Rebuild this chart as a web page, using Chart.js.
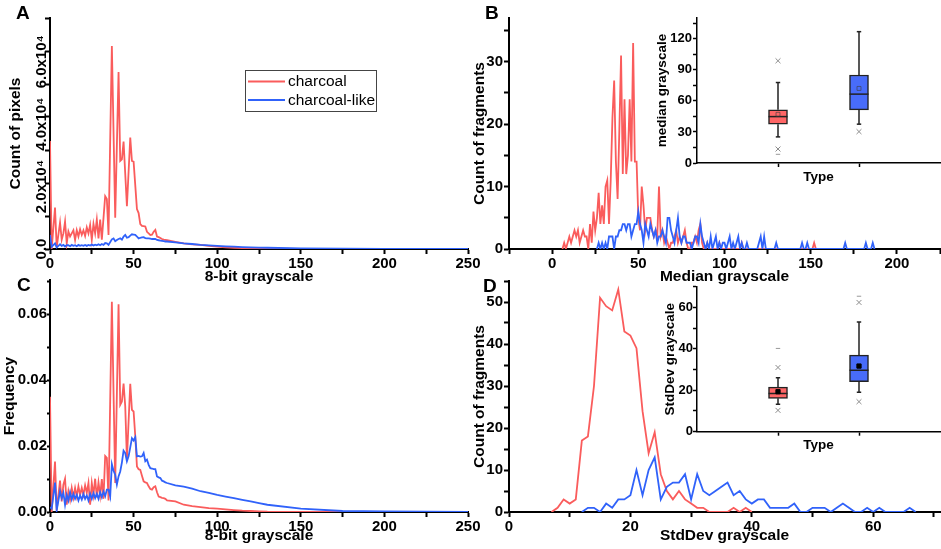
<!DOCTYPE html>
<html>
<head>
<meta charset="utf-8">
<script src="https://cdn.jsdelivr.net/npm/chart.js@4.4.1/dist/chart.umd.min.js"></script>
<style>
  html, body { margin: 0; padding: 0; background: #fff; }
  #fig { position: relative; width: 941px; height: 549px; overflow: hidden; background: #fff; }
  #fig canvas { position: absolute; }
  .tag { position: absolute; font: bold 19px "Liberation Sans", Arial, sans-serif; line-height: 19px; color: #000; }
</style>
</head>
<body>
<div id="fig">
  <canvas id="histA" width="490" height="290" style="left:0px;top:0px"></canvas>
  <canvas id="histC" width="490" height="274" style="left:0px;top:275px"></canvas>
  <canvas id="histB" width="471" height="290" style="left:470px;top:0px"></canvas>
  <canvas id="histD" width="471" height="274" style="left:470px;top:275px"></canvas>
  <canvas id="boxB" width="301" height="190" style="left:640px;top:0px"></canvas>
  <canvas id="boxD" width="301" height="180" style="left:640px;top:275px"></canvas>
  <div class="tag" style="left:16px;top:3px">A</div>
  <div class="tag" style="left:485px;top:3px">B</div>
  <div class="tag" style="left:17px;top:275px">C</div>
  <div class="tag" style="left:483px;top:276px">D</div>
</div>
<script>
// grey levels sampled for panels A and C (dense where the curves are noisy)
const grayLevels = [0,1,2,3,4,5,6,7,8,9,10,11,12,13,14,15,16,17,18,19,20,21,22,23,24,25,26,27,28,29,
  30,31,32,33,34,35,36,37,38,39,40,41,42,43,44,45,46,47,48,49,50,51,52,53,54,55,56,57,58,59,
  60,61,62,63,64,65,66,67,68,69,70,75,80,85,90,95,100,105,110,115,120,125,130,150,175,200,225,250];

// A: count of pixels
const pixelsCharcoal = [34600,0,null,13300,500,null,8500,3000,5000,8800,
  1800,5600,4000,5000,6000,2900,6000,4000,6300,4500,
  6000,4200,6900,5000,7700,2900,8000,5000,9400,3400,
  9400,3000,null,16900,16000,4500,null,65000,null,10000,
  null,56700,28200,28700,34400,null,13700,null,35700,28200,
  28000,null,12800,11500,8000,7400,7300,7200,5500,5000,
  4500,4600,5500,6100,4000,3800,3500,3200,3000,2900,
  2800,2300,1800,1500,1300,1000,750,550,400,300,250,200,150,50,20,10,0,0];
const pixelsCharcoalLike = [4500,700,null,1800,500,1000,1500,1000,1300,800,
  1200,1200,900,1300,1000,1200,900,1300,1000,1200,
  1000,1300,1000,1300,1100,1400,1100,1400,1200,1500,
  1200,1600,1300,1900,1800,1300,null,3100,3400,2500,
  2900,3200,3400,3000,4000,4500,3600,3800,4300,4700,
  4600,4500,4000,3400,3600,3700,3800,3500,3400,3400,
  3300,3200,3200,3200,2900,2800,2700,2600,2500,2400,
  2400,2100,1800,1600,1300,1150,1000,850,750,600,500,450,400,200,100,50,30,20];
const pixelTickValues = [0, 20000, 40000, 60000];
const pixelTickLabels = ['0.0', '2.0x10\u2074', '4.0x10\u2074', '6.0x10\u2074'];

// C: frequency
const freqCharcoal = [0.035,0,null,0.0153,0.0005,null,0.0095,0.0032,0.0083,0.0101,
  0.0022,0.0063,0.0037,0.0073,0.0044,0.0073,0.0047,0.0078,0.0052,0.0073,
  0.0052,0.0081,0.0058,0.0088,0.0022,0.0088,0.0052,0.0101,0.0044,0.009,
  0.005,0.01,0.004,0.017,0.0164,0.0035,null,0.0638,null,0.0088,
  null,0.063,0.0325,0.0335,0.039,0.032,0.0159,null,0.0389,0.031,
  0.0305,0.023,0.0138,0.013,0.0128,0.011,0.0093,0.009,0.0088,0.0078,
  0.007,0.0068,0.0075,0.0078,0.006,0.0047,0.0045,0.0043,0.0042,0.004,
  0.0035,0.0032,0.0022,0.0018,0.0015,0.0012,0.001,0.0008,0.0006,0.0004,0.0003,0.0002,0.0001,
  0.00003,0,0,0,0];
const freqCharcoalLike = [0.0015,0.001,null,0.0089,0.0005,null,0.0063,0.0042,0.0058,0.0022,
  0.0052,0.0035,0.006,0.0038,0.0055,0.004,0.0052,0.0035,0.005,0.0038,
  0.0055,0.004,0.005,0.0035,0.0055,0.004,0.0057,0.0042,0.0055,0.004,
  0.006,0.0045,0.0062,0.0048,0.0068,0.0068,0.0047,0.0145,0.0125,0.0113,
  0.0083,0.0108,0.0123,0.015,0.0186,0.0179,0.0154,0.0169,0.0196,0.0224,
  0.0217,0.0227,0.0169,0.017,0.0168,0.0169,0.0179,0.0154,0.0159,0.0143,
  0.0133,0.0132,0.013,0.013,0.0108,0.0105,0.0103,0.0095,0.0093,0.009,
  0.0088,0.0081,0.0077,0.0071,0.0063,0.0058,0.0052,0.0047,0.0042,0.0037,0.0032,0.0027,0.0022,
  0.001,0.0003,0.0002,0.0001,0.00005];

// B: fragments per median grey level (one bin per level, starting at *Start)
const medianCharcoalStart = 6;
const medianCharcoal = [0,1,0,1,2,1,2,3,2,3, 1,2,3,2,2,0,4,1,6,3, 5,9,4,7,4,10,11,4,11,21,
  27,14,8,19,31,12,24,12,15,24, 14,33,14,14,5,3,10,7,3,5, 5,5,3,2,3,2,10,2,3,1,
  2,1,0,1,1,2,3,1,2,1, 2,3,1,0,0,1,1,2,1,3, 4,1,0,0,1,0,0,0,0,0, 0,1,0,0,0,0,0,0,0,0,
  0,0,0,0,1,0,0,0,0,0, 0,0,0,0,0,0,0,0,0,0, 0,0,0,0,0,0,0,0,0,0, 0,0,0,0,0,0,0,0,0,0,
  0,0,0,0,0,0,1,0];
const medianCharcoalLikeStart = 26;
const medianCharcoalLike = [0,1,0,1,0,1,0,2,2,2, 0,2,2,3,3,4,4,3,4,4, 2,3,4,4,6,4,3,1,4,3,
  2,4,3,2,3,1,2,2,3,2, 1,5,5,3,2,1,3,5,2,1, 2,2,1,1,1,0,1,2,2,1, 4,2,1,0,1,0,2,0,1,2,
  0,1,0,1,1,0,1,2,0,1, 0,1,2,0,1,0,0,1,0,0, 0,0,0,0,1,2,0,2,0,0, 0,0,0,0,1,0,0,0,0,0,
  0,0,0,0,0,0,0,0,0,1, 0,0,1,0,0,0,0,0,0,0, 0,0,0,0,0,0,0,0,0,0, 0,0,0,0,1,0,0,0,0,0,
  0,0,0,0,0,0,1,0,0,0, 1,0];

// D: fragments per StdDev grey level
const stdCharcoalStart = 7;
const stdCharcoal = [0,1,3,2,3,17,18,30,51,49,48,53,43,42,39,24,14,19,9,5,3,5,3,2,1,1,0,0,0,0,1,0,1,0];
const stdCharcoalLikeStart = 12;
const stdCharcoalLike = [0,1,1,0,2,1,3,3,4,10, 4,10,13,3,6,7,7,9,3,9, 5,4,5,6,7,4,5,3,2,3,
  3,1,1,1,1,2,0,0,1,1, 1,0,1,2,1,0,0,1,0,1, 0,0,0,0,1,0];

// inset box plots: index 0 = charcoal, 1 = charcoal-like
const boxTypes = [1, 2];
const medQ1 = [37.5, 51.3];
const medQ3 = [51.3, 85.0];
const medMedian = [44.8, 66.5];
const medMean = [47.0, 72.0];
const medWhiskerLow = [25.2, 37.5];
const medWhiskerHigh = [77.7, 126.8];
const medOutliers = [[98.7, 13.5], [30.3]];
const medExtremes = [[8.4], []];

const sdQ1 = [16.1, 24.1];
const sdQ3 = [21.5, 37.0];
const sdMedian = [18.5, 29.7];
const sdMean = [19.3, 31.7];
const sdWhiskerLow = [13.2, 19.0];
const sdWhiskerHigh = [26.0, 52.9];
const sdOutliers = [[31.0, 10.3], [62.4, 14.5]];
const sdExtremes = [[40.2], [65.4]];

const FONT = '"Liberation Sans", Arial, Helvetica, sans-serif';
const RED = 'rgb(250, 92, 92)';
const BLUE = 'rgb(48, 98, 250)';
const RED_FILL = 'rgb(255, 102, 102)';
const BLUE_FILL = 'rgb(72, 108, 250)';

Chart.defaults.font.family = FONT;
Chart.defaults.color = '#000';
Chart.defaults.animation = false;
Chart.defaults.events = [];
Chart.defaults.plugins.legend.display = false;
Chart.defaults.plugins.tooltip.enabled = false;

function pairs(xs, ys) {
  return xs.map((x, i) => ({ x: x, y: ys[i] }));
}

function binned(start, counts) {
  return counts.map((c, i) => ({ x: start + i, y: c }));
}

function every(n, digits) {
  return v => (Math.abs(v / n - Math.round(v / n)) < 1e-6 && v >= 0
    ? (digits ? v.toFixed(digits) : String(v)) : '');
}

// linear axis with fixed room so the plot areas land where the figure has them
function axis(o) {
  const vertical = o.position === 'left';
  const cfg = {
    type: 'linear',
    position: o.position,
    min: o.min,
    max: o.max,
    offset: false,
    border: { color: '#000', width: o.line },
    grid: { offset: false, drawOnChartArea: false, tickLength: o.tick, tickWidth: o.line, tickColor: '#000' },
    ticks: {
      stepSize: o.step, includeBounds: false, autoSkip: false, maxRotation: 0,
      padding: o.pad, color: '#000',
      font: { size: o.size, weight: 'bold' },
      callback: o.label
    },
    title: {
      display: true, text: o.title, color: '#000',
      font: { size: o.titleSize || o.size, weight: 'bold' },
      padding: vertical ? { top: o.titlePad, bottom: 0 } : { top: 0, bottom: o.titlePad }
    },
    afterFit: s => {
      if (vertical) { s.width = o.room; s.paddingTop = 0; s.paddingBottom = 0; }
      else { s.height = o.room; s.paddingLeft = 0; s.paddingRight = 0; }
    }
  };
  if (o.fixedTicks) {
    cfg.afterBuildTicks = s => { s.ticks = o.fixedTicks.map(v => ({ value: v })); };
  }
  return cfg;
}

function lineSeries(label, data, color, order) {
  return { label: label, data: data, borderColor: color, backgroundColor: color, order: order,
    borderWidth: 1.8, pointRadius: 0, tension: 0, spanGaps: true };
}

const rotatedPixelTicks = {
  id: 'rotatedPixelTicks',
  afterDraw(chart) {
    const ctx = chart.ctx;
    const y = chart.scales.y;
    ctx.save();
    ctx.font = 'bold 15px ' + FONT;
    ctx.fillStyle = '#000';
    ctx.textAlign = 'center';
    ctx.textBaseline = 'middle';
    pixelTickValues.forEach((v, i) => {
      ctx.save();
      ctx.translate(y.left + 42, y.getPixelForValue(v));
      ctx.rotate(-Math.PI / 2);
      ctx.fillText(pixelTickLabels[i], 0, 0);
      ctx.restore();
    });
    ctx.restore();
  }
};

const seriesLegend = {
  id: 'seriesLegend',
  afterDraw(chart) {
    const ctx = chart.ctx;
    ctx.save();
    ctx.strokeStyle = '#444';
    ctx.lineWidth = 1;
    ctx.strokeRect(245.5, 70.5, 131, 41);
    chart.data.datasets.forEach((ds, i) => {
      const yy = 81.5 + i * 18.5;
      ctx.strokeStyle = ds.borderColor;
      ctx.lineWidth = 2;
      ctx.beginPath();
      ctx.moveTo(248, yy);
      ctx.lineTo(285, yy);
      ctx.stroke();
      ctx.fillStyle = '#000';
      ctx.font = '15.5px ' + FONT;
      ctx.textBaseline = 'middle';
      ctx.fillText(ds.label, 288, yy + 0.5);
    });
    ctx.restore();
  }
};

function layoutPad(top, right) {
  return { autoPadding: false, padding: { top: top, right: right, bottom: 0, left: 0 } };
}

// panel A
new Chart(document.getElementById('histA'), {
  type: 'line',
  data: { datasets: [
    lineSeries('charcoal', pairs(grayLevels, pixelsCharcoal), RED, 1),
    lineSeries('charcoal-like', pairs(grayLevels, pixelsCharcoalLike), BLUE, 0)
  ] },
  options: {
    responsive: false,
    layout: layoutPad(18, 22),
    scales: {
      x: axis({ position: 'bottom', min: 0, max: 250, step: 25, label: every(50), line: 2, tick: 5, pad: 1,
        size: 15, titleSize: 15.5, title: '8-bit grayscale', titlePad: 4, room: 41 }),
      y: axis({ position: 'left', min: 0, max: 74000, step: 10000, label: () => '', line: 2, tick: 5, pad: 1,
        size: 15, titleSize: 15.5, title: 'Count of pixels', titlePad: 6, room: 50 })
    }
  },
  plugins: [rotatedPixelTicks, seriesLegend]
});

// panel C
new Chart(document.getElementById('histC'), {
  type: 'line',
  data: { datasets: [
    lineSeries('charcoal', pairs(grayLevels, freqCharcoal), RED, 1),
    lineSeries('charcoal-like', pairs(grayLevels, freqCharcoalLike), BLUE, 0)
  ] },
  options: {
    responsive: false,
    layout: layoutPad(5, 22),
    scales: {
      x: axis({ position: 'bottom', min: 0, max: 250, step: 25, label: every(50), line: 2, tick: 5, pad: 1,
        size: 15, titleSize: 15.5, title: '8-bit grayscale', titlePad: 4, room: 37 }),
      y: axis({ position: 'left', min: 0, max: 0.0704, step: 0.01, label: every(0.02, 2), line: 2, tick: 3, pad: 0,
        size: 15, titleSize: 15.5, title: 'Frequency', titlePad: 0, room: 50 })
    }
  }
});

// panel B
new Chart(document.getElementById('histB'), {
  type: 'line',
  data: { datasets: [
    lineSeries('charcoal', binned(medianCharcoalStart, medianCharcoal), RED, 1),
    lineSeries('charcoal-like', binned(medianCharcoalLikeStart, medianCharcoalLike), BLUE, 0)
  ] },
  options: {
    responsive: false,
    layout: layoutPad(18, 1),
    scales: {
      x: axis({ position: 'bottom', min: -25, max: 225, step: 25, label: every(50), line: 2, tick: 5, pad: 1,
        size: 15, titleSize: 15.5, title: 'Median grayscale', titlePad: 4, room: 41 }),
      y: axis({ position: 'left', min: 0, max: 37, step: 5, label: every(10), line: 2, tick: 5, pad: 1,
        size: 15, titleSize: 15.5, title: 'Count of fragments', titlePad: 0, room: 39 })
    }
  }
});

// panel D
new Chart(document.getElementById('histD'), {
  type: 'line',
  data: { datasets: [
    lineSeries('charcoal', binned(stdCharcoalStart, stdCharcoal), RED, 1),
    lineSeries('charcoal-like', binned(stdCharcoalLikeStart, stdCharcoalLike), BLUE, 0)
  ] },
  options: {
    responsive: false,
    layout: layoutPad(6, 1),
    scales: {
      x: axis({ position: 'bottom', min: 0, max: 71, step: 10, label: every(20), line: 2, tick: 5, pad: 1,
        size: 15, titleSize: 15.5, title: 'StdDev grayscale', titlePad: 4, room: 37 }),
      y: axis({ position: 'left', min: 0, max: 55, step: 5, label: every(10), line: 2, tick: 5, pad: 1,
        size: 15, titleSize: 15.5, title: 'Count of fragments', titlePad: 0, room: 39 })
    }
  }
});

// box plot built from floating bars plus scatter markers
function boxDatasets(b) {
  const whiskers = [];
  const caps = [];
  const outliers = [];
  const extremes = [];
  boxTypes.forEach((x, i) => {
    whiskers.push({ x: x, y: b.low[i] }, { x: x, y: b.q1[i] }, { x: x, y: null },
      { x: x, y: b.q3[i] }, { x: x, y: b.high[i] }, { x: x, y: null });
    caps.push({ x: x, y: b.low[i] }, { x: x, y: b.high[i] });
    b.outliers[i].forEach(v => outliers.push({ x: x, y: v }));
    b.extremes[i].forEach(v => extremes.push({ x: x, y: v }));
  });
  return [
    { type: 'scatter', data: pairs(boxTypes, b.mean), pointStyle: 'rect', pointRadius: b.meanRadius,
      pointBackgroundColor: b.meanFill, pointBorderColor: b.meanBorder, pointBorderWidth: 1 },
    { type: 'scatter', data: pairs(boxTypes, b.median), pointStyle: 'line', pointRadius: 9.5,
      pointBorderColor: '#222', pointBorderWidth: 1.5 },
    { type: 'scatter', data: caps, pointStyle: 'line', pointRadius: 2.2,
      pointBorderColor: '#222', pointBorderWidth: 1.5 },
    { type: 'scatter', data: outliers, pointStyle: 'crossRot', pointRadius: 3.5,
      pointBorderColor: '#8c8c8c', pointBorderWidth: 1 },
    { type: 'scatter', data: extremes, pointStyle: 'line', pointRadius: 2.2,
      pointBorderColor: '#999', pointBorderWidth: 1 },
    { type: 'scatter', data: whiskers, showLine: true, spanGaps: false, pointRadius: 0,
      borderColor: '#222', borderWidth: 1.5 },
    { type: 'bar', data: boxTypes.map((x, i) => ({ x: x, y: [b.q1[i], b.q3[i]] })),
      backgroundColor: [RED_FILL, BLUE_FILL], borderColor: '#222', borderWidth: 1.5,
      borderSkipped: false, barThickness: 19 }
  ];
}

function boxOptions(o) {
  return {
    responsive: false,
    layout: layoutPad(o.top, 1),
    scales: {
      x: axis({ position: 'bottom', min: 0, max: 3, step: 1, label: () => '', fixedTicks: boxTypes,
        line: 1.5, tick: 4, pad: 0, size: 13, titleSize: 13.5, title: 'Type', titlePad: o.typePad, room: o.xRoom }),
      y: axis({ position: 'left', min: 0, max: o.max, step: o.step, label: every(o.labelStep), line: 1.5,
        tick: 4, pad: o.pad, size: 13, titleSize: 13.5, title: o.title, titlePad: o.titlePad, room: 57 })
    }
  };
}

new Chart(document.getElementById('boxB'), {
  type: 'scatter',
  data: { datasets: boxDatasets({ q1: medQ1, q3: medQ3, median: medMedian, mean: medMean,
    low: medWhiskerLow, high: medWhiskerHigh, outliers: medOutliers, extremes: medExtremes,
    meanRadius: 2.8, meanFill: 'rgba(0,0,0,0)', meanBorder: 'rgba(60,60,60,0.6)' }) },
  options: boxOptions({ top: 18, max: 140, step: 15, labelStep: 30, pad: 1, title: 'median grayscale',
    titlePad: 14.4, typePad: 4.9, xRoom: 27 })
});

new Chart(document.getElementById('boxD'), {
  type: 'scatter',
  data: { datasets: boxDatasets({ q1: sdQ1, q3: sdQ3, median: sdMedian, mean: sdMean,
    low: sdWhiskerLow, high: sdWhiskerHigh, outliers: sdOutliers, extremes: sdExtremes,
    meanRadius: 3, meanFill: '#000', meanBorder: '#000' }) },
  options: boxOptions({ top: 11.7, max: 70, step: 10, labelStep: 20, pad: 0, title: 'StdDev grayscale',
    titlePad: 21.9, typePad: 1.2, xRoom: 23.3 })
});
</script>
</body>
</html>
